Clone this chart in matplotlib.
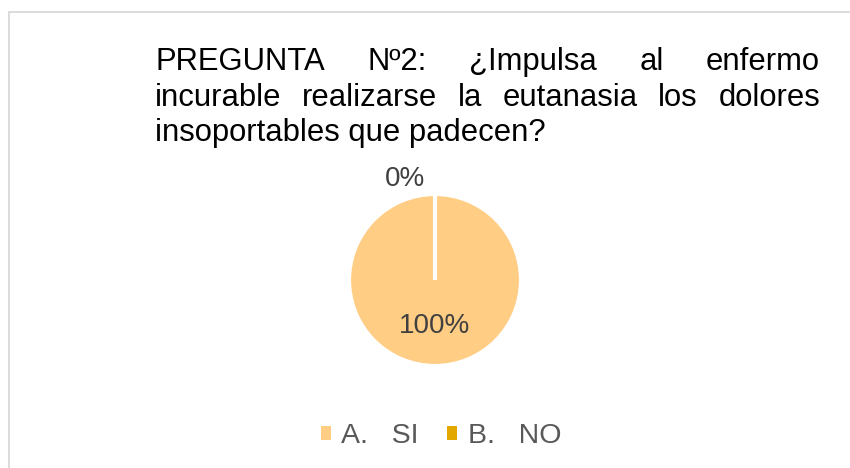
import matplotlib
matplotlib.use("Agg")
import matplotlib.pyplot as plt
from matplotlib.patches import Patch, Rectangle

plt.rcParams['font.family'] = ['Liberation Sans', 'DejaVu Sans']

# ---- data ----
categories = ["A.   SI", "B.   NO"]
values = [100, 0]
colors = ["#FFCD83", "#E2A800"]
title_lines = [
    "PREGUNTA Nº2: ¿Impulsa al enfermo",
    "incurable realizarse la eutanasia los dolores",
    "insoportables que padecen?",
]

W, H = 850, 468
fig = plt.figure(figsize=(W / 100, H / 100), dpi=100)
fig.patch.set_facecolor("white")

# chart border (extends past right/bottom edges)
fig.patches.append(Rectangle((9 / W, -0.1), 1.2, (H - 12) / H + 0.1,
                             transform=fig.transFigure, fill=False,
                             edgecolor="#D9D9D9", linewidth=1.3, zorder=0))

# pie
cx, cy, r = 435, 280, 86
ax = fig.add_axes([(cx - r) / W, (H - cy - r) / H, 2 * r / W, 2 * r / H])
wedges, texts, autotexts = ax.pie(
    values, colors=colors, startangle=90, counterclock=False,
    autopct=lambda p: f"{p:.0f}%", pctdistance=0.54,
    wedgeprops=dict(edgecolor="white", linewidth=3.0),
    textprops=dict(fontsize=20, color="#404040"))
ax.set_xlim(-1, 1)
ax.set_ylim(-1, 1)
ax.set_aspect("equal")
ax.axis("off")
autotexts[1].set_position((-0.35, 1.17))
autotexts[1].set_ha("center")
autotexts[1].set_va("center")

# justified title
fig.canvas.draw()
renderer = fig.canvas.get_renderer()
left, right = 155, 820
baselines = [70, 106, 141]
fs = 22.3


def text_width(s):
    t = fig.text(0, 0, s, fontsize=fs)
    w = t.get_window_extent(renderer).width
    t.remove()
    return w


for i, (line, yb) in enumerate(zip(title_lines, baselines)):
    y = 1 - yb / H
    if i < len(title_lines) - 1:
        words = line.split(" ")
        widths = [text_width(wd) for wd in words]
        gap = (right - left - sum(widths)) / (len(words) - 1)
        x = left
        for wd, w in zip(words, widths):
            fig.text(x / W, y, wd, fontsize=fs, color="black", va="baseline", ha="left")
            x += w + gap
    else:
        fig.text(left / W, y, line, fontsize=fs, color="black", va="baseline", ha="left")

# legend
handles = [Patch(facecolor=c, edgecolor="none") for c in colors]
fig.legend(handles, categories, loc="center", bbox_to_anchor=(441 / W, 1 - 436 / H),
           ncol=2, frameon=False, fontsize=20.5, labelcolor="#595959",
           handlelength=0.36, handleheight=0.36, handletextpad=0.36,
           columnspacing=1.0)

fig.savefig("out.png", dpi=100)
